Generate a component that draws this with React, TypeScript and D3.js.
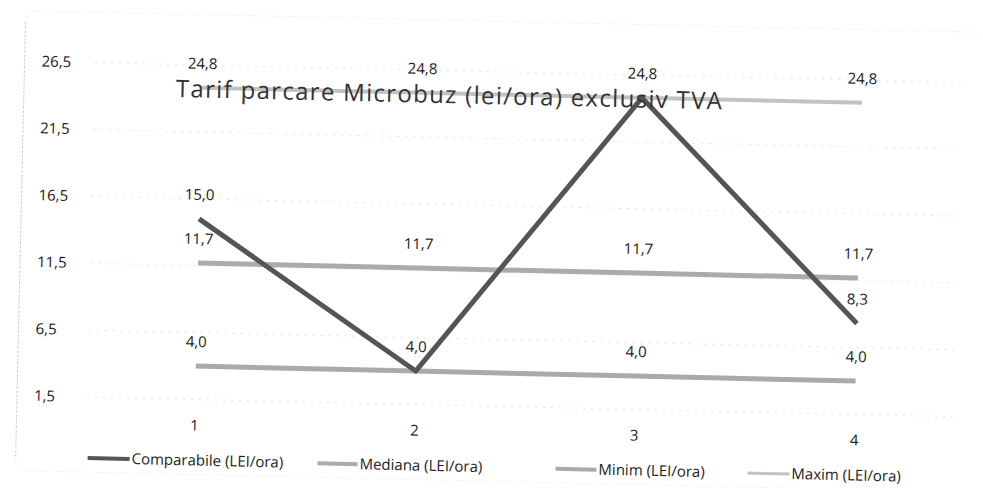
import React from "react";
import * as d3 from "d3";

const categories = ["1", "2", "3", "4"];
const comparabile = [15.0, 4.0, 24.8, 8.3];
const mediana = [11.7, 11.7, 11.7, 11.7];
const minim = [4.0, 4.0, 4.0, 4.0];
const maxim = [24.8, 24.8, 24.8, 24.8];
const yTicks = [1.5, 6.5, 11.5, 16.5, 21.5, 26.5];
const title = "Tarif parcare Microbuz (lei/ora) exclusiv TVA";
const seriesNames = ["Comparabile (LEI/ora)", "Mediana (LEI/ora)", "Minim (LEI/ora)", "Maxim (LEI/ora)"];

const W = 983;
const H = 488;

const fmt = (v: number) => v.toFixed(1).replace(".", ",");

export default function App() {
  const x = d3.scalePoint<string>().domain(categories).range([198, 858]);
  const y = d3.scaleLinear().domain([1.5, 26.5]).range([407, 72.5]);

  const series = [
    { name: seriesNames[0], values: comparabile, color: "#555555", width: 5 },
    { name: seriesNames[1], values: mediana, color: "#ababab", width: 5 },
    { name: seriesNames[2], values: minim, color: "#aaaaaa", width: 5 },
    { name: seriesNames[3], values: maxim, color: "#c2c2c2", width: 4 },
  ];
  const drawOrder = [1, 2, 3, 0];

  const line = d3
    .line<number>()
    .x((_, i) => x(categories[i]) as number)
    .y((d) => y(d));

  const labels: { key: string; x: number; y: number; text: string }[] = [];
  const seen = new Set<string>();
  [3, 1, 2, 0].forEach((si) => {
    series[si].values.forEach((v, i) => {
      const k = categories[i] + "|" + fmt(v);
      if (seen.has(k)) return;
      seen.add(k);
      labels.push({ key: si + "-" + i, x: x(categories[i]) as number, y: y(v) - 19, text: fmt(v) });
    });
  });

  const legendItems = [
    { sx: 92, tx: 136 },
    { sx: 322, tx: 364 },
    { sx: 560, tx: 603 },
    { sx: 752, tx: 796 },
  ];

  return (
    <svg
      width={W}
      height={H}
      viewBox={`0 0 ${W} ${H}`}
      style={{ position: "absolute", left: 0, top: 0, background: "#fff" }}
      fontFamily="'Open Sans', 'Noto Sans', sans-serif"
    >
      <rect x={0} y={0} width={W} height={H} fill="#fff" />
      <g transform="rotate(1.3, 527, 270)">
        <rect
          x={20}
          y={22}
          width={1000}
          height={460}
          rx={12}
          fill="none"
          stroke="#ececec"
          strokeWidth={1}
          strokeDasharray="2,3"
        />
        <line x1={20} x2={20} y1={34} y2={470} stroke="#c8c8c8" strokeWidth={1} strokeDasharray="2,2" />
        {yTicks.map((t) => (
          <g key={t}>
            <line
              x1={90}
              x2={960}
              y1={y(t)}
              y2={y(t)}
              stroke="#e2e2e2"
              strokeWidth={1}
              strokeDasharray="2,6"
            />
            <text x={37} y={y(t) + 5} fontSize={15} fontWeight={500} fill="#1a1a1a">
              {fmt(t)}
            </text>
          </g>
        ))}
        {drawOrder.map((si) => (
          <path
            key={series[si].name}
            d={line(series[si].values) || ""}
            fill="none"
            stroke={series[si].color}
            strokeWidth={series[si].width}
            strokeLinejoin="round"
          />
        ))}
        <text
          x={445}
          y={105}
          textAnchor="middle"
          fontSize={24}
          fill="#333"
          textLength={546}
          lengthAdjust="spacing"
        >
          {title}
        </text>
        {labels.map((l) => (
          <text key={l.key} x={l.x} y={l.y} textAnchor="middle" fontSize={15} fontWeight={500} fill="#1a1a1a">
            {l.text}
          </text>
        ))}
        {categories.map((c) => (
          <text key={c} x={x(c) as number} y={438} textAnchor="middle" fontSize={15} fill="#222">
            {c}
          </text>
        ))}
        {series.map((s, i) => (
          <g key={s.name}>
            <line
              x1={legendItems[i].sx}
              x2={legendItems[i].tx - 2}
              y1={468}
              y2={468}
              stroke={s.color}
              strokeWidth={s.width - 1}
            />
            <text x={legendItems[i].tx} y={473} fontSize={15} fill="#222">
              {s.name}
            </text>
          </g>
        ))}
      </g>
    </svg>
  );
}
